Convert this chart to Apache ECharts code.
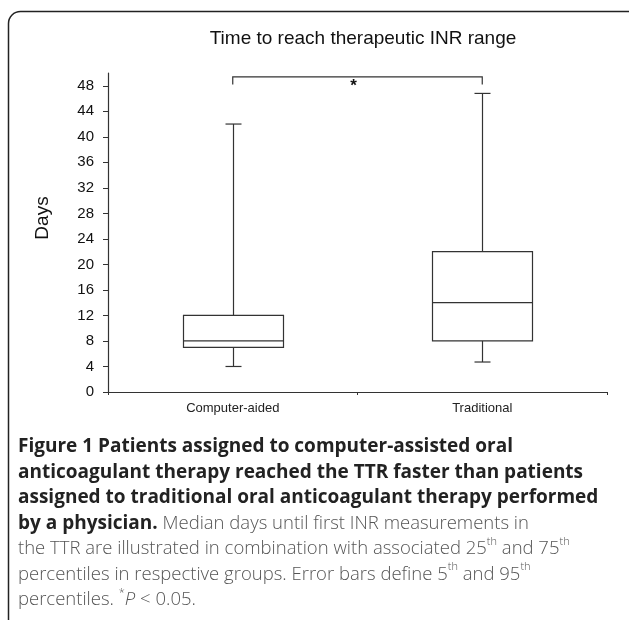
<!DOCTYPE html>
<html>
<head>
<meta charset="utf-8">
<script src="https://cdn.jsdelivr.net/npm/echarts@6/dist/echarts.min.js"></script>
<style>
  html, body { margin: 0; padding: 0; background: #fff; }
  #chart { width: 629px; height: 620px; }
</style>
</head>
<body>
<div id="chart"></div>
<script>
const categories = ['Computer-aided', 'Traditional'];
// [5th, 25th, median, 75th, 95th] percentiles in days
const boxValues = [
  [4, 7, 8, 12, 42],
  [4.7, 8, 14, 22, 46.8]
];
const yTicks = [0, 4, 8, 12, 16, 20, 24, 28, 32, 36, 40, 44, 48];
const bracket = [0, 1, 49.4, 48.2]; // from cat, to cat, top, bottom

const lineColor = '#333';
const chart = echarts.init(document.getElementById('chart'));

function boxItem(params, api) {
  const x = api.value(0);
  const lo = api.coord([x, api.value(1)]);
  const q1 = api.coord([x, api.value(2)]);
  const md = api.coord([x, api.value(3)]);
  const q3 = api.coord([x, api.value(4)]);
  const hi = api.coord([x, api.value(5)]);
  const cx = Math.round(lo[0]) + 0.5;
  const bw = Math.round(api.size([1, 0])[0] * 0.4);
  const cap = 8;
  const st = { stroke: lineColor, lineWidth: 1.2, fill: 'none' };
  const ln = (x1, y1, x2, y2) => ({ type: 'line', shape: { x1, y1, x2, y2 }, style: st });
  return {
    type: 'group',
    children: [
      ln(cx, hi[1], cx, q3[1]),
      ln(cx - cap, hi[1], cx + cap, hi[1]),
      ln(cx, q1[1], cx, lo[1]),
      ln(cx - cap, lo[1], cx + cap, lo[1]),
      { type: 'rect', shape: { x: cx - bw / 2, y: q3[1], width: bw, height: q1[1] - q3[1] }, style: st },
      ln(cx - bw / 2, md[1], cx + bw / 2, md[1])
    ]
  };
}

function bracketItem(params, api) {
  const a = api.coord([api.value(0), api.value(3)]);
  const b = api.coord([api.value(0), api.value(2)]);
  const c = api.coord([api.value(1), api.value(2)]);
  const d = api.coord([api.value(1), api.value(3)]);
  return {
    type: 'group',
    children: [
      { type: 'polyline', shape: { points: [a, b, c, d] }, style: { stroke: lineColor, lineWidth: 1.2, fill: 'none' } },
      { type: 'text', x: (b[0] + c[0]) / 2 - 4, y: b[1] + 1,
        style: { text: '*', fontSize: 17, fontWeight: 'bold', fontFamily: 'Liberation Sans', fill: '#111', align: 'center', verticalAlign: 'top' } }
    ]
  };
}

const captionText = [
  '{b|Figure 1 Patients assigned to computer-assisted oral}',
  '{b|anticoagulant therapy reached the TTR faster than patients}',
  '{b|assigned to traditional oral anticoagulant therapy performed}',
  '{b|by a physician.}{n| Median days until first INR measurements in}',
  '{n|the TTR are illustrated in combination with associated 25}{s|th}{n| and 75}{s|th}',
  '{n|percentiles in respective groups. Error bars define 5}{s|th}{n| and 95}{s|th}',
  '{n|percentiles. }{s|*}{i|P}{n| < 0.05.}'
].join('\n');

chart.setOption({
  backgroundColor: '#fff',
  animation: false,
  title: {
    text: 'Time to reach therapeutic INR range',
    left: 358,
    top: 24,
    textAlign: 'center',
    textStyle: { fontFamily: 'Liberation Sans', fontSize: 19, fontWeight: 'normal', color: '#111' }
  },
  grid: { left: 108, right: 22, top: 73, bottom: 228 },
  xAxis: {
    type: 'category',
    data: categories,
    axisLine: { lineStyle: { color: lineColor, width: 1.2 } },
    axisTick: { show: true, length: 3, lineStyle: { color: lineColor } },
    axisLabel: { color: '#222', fontSize: 13, fontFamily: 'Liberation Sans', margin: 10 },
    splitLine: { show: false }
  },
  yAxis: {
    type: 'value',
    min: 0,
    max: 50,
    interval: 4,
    axisLine: { show: true, lineStyle: { color: lineColor, width: 1.2 } },
    axisTick: { show: true, length: 5, customValues: yTicks, lineStyle: { color: lineColor } },
    axisLabel: { color: '#111', fontSize: 15, fontFamily: 'Liberation Sans', margin: 14, customValues: yTicks },
    splitLine: { show: false }
  },
  graphic: [
    { type: 'rect', shape: { x: 8.5, y: 11.5, width: 640, height: 640, r: 12 },
      style: { stroke: '#222', lineWidth: 1.5, fill: 'none' }, silent: true },
    { type: 'text', x: 43, y: 218, rotation: Math.PI / 2,
      style: { text: 'Days', fontSize: 19, fontFamily: 'Liberation Sans', fill: '#111', align: 'center', verticalAlign: 'middle' } },
    { type: 'text', left: 18, top: 434,
      style: {
        text: captionText,
        lineHeight: 25.5,
        rich: {
          b: { fontFamily: 'Open Sans', fontWeight: 'bold', fontSize: 19, fill: '#222', lineHeight: 25.5 },
          n: { fontFamily: 'Open Sans', fontWeight: 300, fontSize: 18.5, fill: '#555', lineHeight: 25.5 },
          i: { fontFamily: 'Open Sans', fontStyle: 'italic', fontWeight: 300, fontSize: 18.5, fill: '#555', lineHeight: 25.5 },
          s: { fontFamily: 'Open Sans', fontWeight: 300, fontSize: 11, fill: '#555', verticalAlign: 'top', lineHeight: 25.5, padding: [0, 0, 9, 0] }
        }
      } }
  ],
  series: [
    {
      type: 'custom',
      renderItem: boxItem,
      encode: { x: 0, y: [1, 2, 3, 4, 5] },
      data: boxValues.map((v, i) => [i, ...v]),
      silent: true
    },
    {
      type: 'custom',
      renderItem: bracketItem,
      encode: { y: [2, 3] },
      data: [bracket],
      silent: true
    }
  ]
});
</script>
</body>
</html>
